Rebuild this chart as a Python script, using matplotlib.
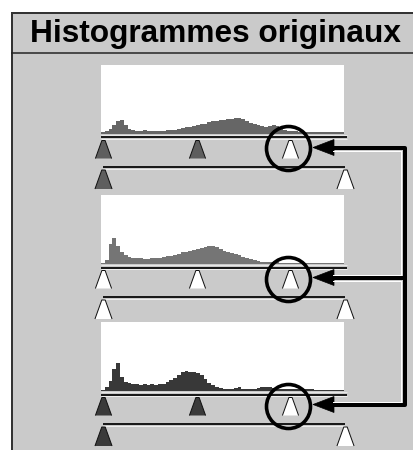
import matplotlib
matplotlib.use("Agg")
import matplotlib.pyplot as plt
from matplotlib.patches import Rectangle, Polygon

W, H = 413, 450
DPI = 100
PX = 72.0 / DPI  # points per pixel

# ---------------- data ----------------
title = "Histogrammes originaux"

# histogram bin heights (64 bins, 0-255 levels), relative units
hist_1 = [1.5, 2.5, 5, 9, 13, 13.5, 9, 5, 4, 3, 2.5, 3.5, 2.5, 2.5, 2.5, 2.5,
          3, 3.5, 3.5, 4, 4.5, 5.5, 6.5, 7, 8, 8.5, 9.5, 10, 11.5, 12.5, 13, 14,
          14, 14.5, 15, 16, 16, 15, 13, 11, 9.5, 8.5, 7.5, 7, 8, 9, 8, 6,
          4, 3, 2.5, 2.5, 2, 2, 2, 2, 2, 1.8, 1.8, 1.8, 1.5, 1.5, 1.5, 1.5]
hist_2 = [1.5, 4, 20, 26, 18, 12, 9, 7, 6.5, 6, 6, 5.5, 5.5, 6, 6, 6.5,
          7, 8, 8.5, 9, 10.5, 12, 12.5, 13, 14, 15, 16, 17, 18, 18, 17.5, 15,
          13, 12, 11, 10, 9, 7.5, 6, 5, 4, 3, 2.5, 2.5, 2.5, 2, 2, 1.5,
          1.5, 1.5, 1.5, 1.5, 1.5, 1.5, 1.5, 1.5, 1.5, 1.5, 1.5, 1.5, 1.5, 1.5, 1.5, 1.5]
hist_3 = [1.5, 4, 10, 22, 28, 14, 9, 8, 7, 7, 6.5, 7, 6.5, 7, 6.5, 7,
          7.5, 9, 11, 13, 16, 19, 20, 19, 19, 18, 16, 12, 8.5, 6, 4, 3,
          2.5, 2.5, 2.5, 3, 4, 2.5, 2.5, 2.5, 2.5, 3, 4, 4, 4, 3, 2.5, 2,
          2, 2, 2, 2, 1.8, 1.8, 1.8, 1.8, 1.5, 1.5, 1.5, 1.5, 1.5, 1.5, 1.5, 1.5]
histograms = [hist_1, hist_2, hist_3]
hist_colors = ["#666666", "#757575", "#383838"]

# slider levels
input_levels = [0, 99, 197]     # black point, gamma, white point
output_levels = [0, 255]
input_handle_colors = [["#5e5e5e", "#5e5e5e", "white"],
                       ["white", "white", "white"],
                       ["#3a3a3a", "#3a3a3a", "white"]]
output_handle_colors = [["#5e5e5e", "white"],
                        ["white", "white"],
                        ["#3a3a3a", "white"]]

# ---------------- figure ----------------
fig = plt.figure(figsize=(W / DPI, H / DPI), dpi=DPI)
fig.patch.set_facecolor("white")


def fig_rect(x0, y0, x1, y1):
    return [x0 / W, 1 - y1 / H, (x1 - x0) / W, (y1 - y0) / H]


base = fig.add_axes([0, 0, 1, 1])
base.set_xlim(0, W)
base.set_ylim(H, 0)
base.axis("off")

bg = "#cacaca"
base.add_patch(Rectangle((11, 12), W - 11, H - 12, facecolor=bg, edgecolor="none"))
base.plot([11.5, 11.5], [12, H], color="#333333", lw=2 * PX, solid_capstyle="butt")
base.plot([11, W], [12.5, 12.5], color="#333333", lw=2 * PX, solid_capstyle="butt")
base.plot([11, W], [53, 53], color="#222222", lw=1.5 * PX, solid_capstyle="butt")
base.text(216, 42, title, ha="center", va="baseline", fontsize=22.8,
          fontweight="bold", family=["Liberation Sans", "DejaVu Sans"], color="black")

offsets = [0, 130, 257]
box_x0, box_x1 = 101, 344
box_top, box_bot = 65, 134
sl_x0, sl_x1 = 103, 345

tri = [(-0.45, -0.5), (-0.09, 0.5), (0.09, 0.5), (0.45, -0.5)]

for p, off in enumerate(offsets):
    # histogram
    ax = fig.add_axes(fig_rect(box_x0, box_top + off, box_x1, box_bot + off))
    ax.set_facecolor("white")
    ax.bar(range(len(histograms[p])), histograms[p], width=1.0, align="edge",
           color=hist_colors[p], linewidth=0)
    ax.set_xlim(0, len(histograms[p]))
    ax.set_ylim(0, box_bot - box_top)
    ax.set_xticks([])
    ax.set_yticks([])
    for s in ax.spines.values():
        s.set_visible(False)

    # slider axes (x in levels 0..255, y in pixels)
    sa = fig.add_axes(fig_rect(sl_x0, 120 + off, sl_x1, 192 + off))
    sa.set_xlim(0, 255)
    sa.set_ylim(192 + off, 120 + off)
    sa.axis("off")
    sa.patch.set_alpha(0)
    lv = lambda px: (px - sl_x0) / (sl_x1 - sl_x0) * 255
    sa.hlines(134.8 + off, lv(box_x0), lv(347), color="#e6e6e6", lw=1 * PX, clip_on=False)
    sa.hlines(137.5 + off, lv(box_x0), lv(347), color="#1a1a1a", lw=2 * PX, clip_on=False)
    sa.hlines(139.3 + off, lv(box_x0), lv(347), color="#eeeeee", lw=1 * PX, clip_on=False)
    sa.hlines(167 + off, output_levels[0], output_levels[1], color="#1a1a1a", lw=2 * PX, clip_on=False)
    sa.hlines(168.8 + off, output_levels[0], output_levels[1], color="#eeeeee", lw=1 * PX, clip_on=False)
    for lvl, c in zip(input_levels, input_handle_colors[p]):
        sa.plot([lvl], [149 + off], marker=tri, ms=18 * PX, mfc=c, mec="#111111",
                mew=1.0 * PX, clip_on=False, ls="none")
    for lvl, c in zip(output_levels, output_handle_colors[p]):
        sa.plot([lvl], [178.5 + off], marker=tri, ms=19 * PX, mfc=c, mec="#111111",
                mew=1.0 * PX, clip_on=False, ls="none")
    sa.plot([input_levels[2] - 2], [148.5 + off], marker="o", ms=44 * PX, mfc="none",
            mec="black", mew=3.6 * PX, clip_on=False, ls="none")

# overlay for arrows (pixel coordinates)
ov = fig.add_axes([0, 0, 1, 1])
ov.set_xlim(0, W)
ov.set_ylim(H, 0)
ov.axis("off")
ov.patch.set_alpha(0)

ays = [147.5 + o for o in offsets]
vx = 405
ov.plot([333, vx - 4], [ays[0] + 3, ays[0] + 3], color="white", lw=1 * PX)
ov.plot([vx - 4, vx - 4], [ays[0] + 3, ays[1] - 3], color="white", lw=1 * PX)
ov.plot([333, vx - 4], [ays[1] - 3, ays[1] - 3], color="white", lw=1 * PX)
ov.plot([333, vx - 4], [ays[1] + 3, ays[1] + 3], color="white", lw=1 * PX)
ov.plot([vx - 4, vx - 4], [ays[1] + 3, ays[2] - 3], color="white", lw=1 * PX)
ov.plot([333, vx - 4], [ays[2] - 3, ays[2] - 3], color="white", lw=1 * PX)
ov.plot([330, vx, vx, 330], [ays[0], ays[0], ays[2], ays[2]], color="black",
        lw=4 * PX, solid_joinstyle="round", solid_capstyle="butt")
ov.plot([330, vx], [ays[1], ays[1]], color="black", lw=4 * PX, solid_capstyle="butt")
for y in ays:
    ov.add_patch(Polygon([(313, y), (334, y - 8), (334, y + 8)], closed=True,
                         facecolor="black", edgecolor="black", lw=0.5))

fig.savefig("out.png", dpi=DPI)
